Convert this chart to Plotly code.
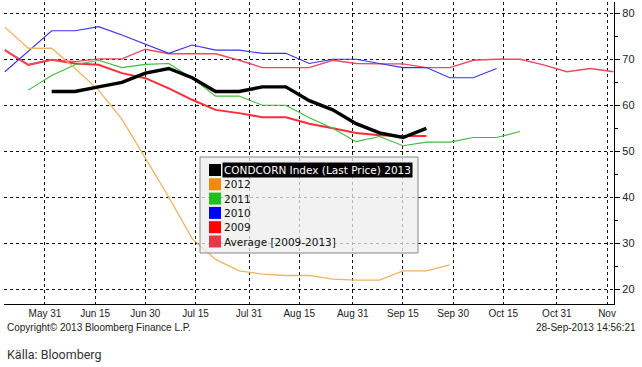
import plotly.graph_objects as go

weeks = ["2013-05-19", "2013-05-26", "2013-06-02", "2013-06-09", "2013-06-16", "2013-06-23",
         "2013-06-30", "2013-07-07", "2013-07-14", "2013-07-21", "2013-07-28", "2013-08-04",
         "2013-08-11", "2013-08-18", "2013-08-25", "2013-09-01", "2013-09-08", "2013-09-15",
         "2013-09-22", "2013-09-29", "2013-10-06", "2013-10-13", "2013-10-20", "2013-10-27",
         "2013-11-03", "2013-11-10", "2013-11-17"]

y2013 = [None, None, 63, 63, 64, 65, 67, 68, 66, 63, 63, 64, 64, 61, 59, 56, 54, 53, 55]
y2012 = [77, 72.4, 72.4, 68, 63.3, 57, 48.5, 40, 31, 26.5, 24, 23.3, 23, 23, 22.2, 22, 22,
         24, 24, 25.3]
y2011 = [None, 63.3, 66.5, 68.8, 69.8, 68.2, 68.9, 69.1, 65.9, 62, 62, 60, 60, 57.3, 55,
         52.1, 53.2, 51.2, 52, 52, 53, 53, 54.3]
y2010 = [67.3, 71.7, 76.2, 76.2, 77.1, 75.3, 73.3, 71.3, 73.1, 72, 72, 71.3, 71.3, 69.1, 70,
         70, 69.1, 68.2, 68.2, 66, 66, 68]
y2009 = [72, 68.8, 69.9, 69.5, 70.1, 70.1, 72.2, 71.2, 71.2, 71.2, 69.8, 68.2, 68.2, 68.2,
         69.8, 69.1, 69, 69, 68.2, 68.2, 69.8, 70, 70, 68.8, 67.3, 68, 67.3]
yavg = [72, 68.8, 69.9, 69.1, 68.8, 67, 65.9, 63.7, 61.2, 59, 58.3, 57.4, 57.4, 56, 55, 54,
        53.5, 53.3, 53.3]

tick_dates = ["2013-05-31", "2013-06-15", "2013-06-30", "2013-07-15", "2013-07-31",
              "2013-08-15", "2013-08-31", "2013-09-15", "2013-09-30", "2013-10-15",
              "2013-10-31", "2013-11-15"]
tick_labels = ["May 31", "Jun 15", "Jun 30", "Jul 15", "Jul 31", "Aug 15", "Aug 31",
               "Sep 15", "Sep 30", "Oct 15", "Oct 31", "Nov"]
y_ticks = [20, 30, 40, 50, 60, 70, 80]

legend_names = ["CONDCORN Index (Last Price) 2013", "2012", "2011", "2010", "2009",
                "Average [2009-2013]"]
legend_colors = ["#000000", "#f08a10", "#20c020", "#0000ff", "#ff0000", "#e83848"]

series = [
    (yavg, "#ff2a3a", 2.0),
    (y2009, "#ec4a5e", 1.4),
    (y2010, "#3434ec", 1.1),
    (y2011, "#3cbc3c", 1.1),
    (y2012, "#f0b460", 1.3),
    (y2013, "#000000", 3.4),
]

fig = go.Figure()
for vals, col, w in series:
    fig.add_trace(go.Scatter(x=weeks[:len(vals)], y=vals, mode="lines",
                             line=dict(color=col, width=w), showlegend=False,
                             connectgaps=False, hoverinfo="skip"))

W, H = 642, 367
L, R, T, B = 4, 28, 2, 63
pw, ph = W - L - R, H - T - B


def px(x):
    return (x - L) / pw


def py(y):
    return (H - B - y) / ph


fig.update_layout(
    width=W, height=H,
    margin=dict(l=L, r=R, t=T, b=B),
    paper_bgcolor="white", plot_bgcolor="white",
    font=dict(family="Liberation Sans", size=10, color="#222"),
    xaxis=dict(range=["2013-05-18 18:00", "2013-11-17 02:00"], type="date",
               tickvals=tick_dates, ticktext=tick_labels, showgrid=True,
               gridcolor="#111", griddash="dot", gridwidth=1,
               showline=True, linecolor="#000", linewidth=1, ticks="",
               tickfont=dict(size=10, family="Liberation Sans", color="#222"),
               zeroline=False, automargin=False),
    yaxis=dict(range=[16.8, 82.46], side="right", tickvals=y_ticks,
               showgrid=True, gridcolor="#111", griddash="dot", gridwidth=1,
               showline=True, linecolor="#000", linewidth=1.3, ticks="outside",
               ticklen=5, tickcolor="#000",
               minor=dict(dtick=5, ticks="outside", ticklen=3, tickcolor="#000"),
               tickfont=dict(size=11, family="Liberation Sans", color="#222"),
               zeroline=False, automargin=False),
)

shapes = []
annotations = []
# legend box
shapes.append(dict(type="rect", xref="paper", yref="paper",
                   x0=px(200), x1=px(418), y0=py(253), y1=py(157),
                   fillcolor="rgba(238,238,238,0.75)", line=dict(color="#888", width=1),
                   layer="above"))
row_y = [170, 184.3, 198.6, 212.9, 227.2, 241.5]
for i, (name, col) in enumerate(zip(legend_names, legend_colors)):
    yc = row_y[i]
    shapes.append(dict(type="rect", xref="paper", yref="paper",
                       x0=px(209), x1=px(221), y0=py(yc + 6), y1=py(yc - 6),
                       fillcolor=col, line=dict(width=0), layer="above"))
    annotations.append(dict(xref="paper", yref="paper", x=px(222), y=py(yc),
                            xanchor="left", yanchor="middle", text=name, showarrow=False,
                            font=dict(family="DejaVu Sans", size=10.5,
                                      color="white" if i == 0 else "#111"),
                            bgcolor="#000" if i == 0 else None, borderpad=1))

annotations.append(dict(xref="paper", yref="paper", x=px(5), y=py(327), xanchor="left",
                        yanchor="middle", showarrow=False,
                        text="Copyright\u00a9 2013 Bloomberg Finance L.P.",
                        font=dict(family="Liberation Sans", size=10, color="#222")))
annotations.append(dict(xref="paper", yref="paper", x=px(638), y=py(327), xanchor="right",
                        yanchor="middle", showarrow=False, text="28-Sep-2013 14:56:21",
                        font=dict(family="Liberation Sans", size=10, color="#222")))
annotations.append(dict(xref="paper", yref="paper", x=px(5), y=py(354), xanchor="left",
                        yanchor="middle", showarrow=False, text="K\u00e4lla: Bloomberg",
                        font=dict(family="Roboto", size=12.5, color="#333")))

fig.update_layout(shapes=shapes, annotations=annotations)
fig.write_html("out.html", config={"displayModeBar": False},
               post_script="document.body.style.margin='0';document.body.style.overflow='hidden';")
